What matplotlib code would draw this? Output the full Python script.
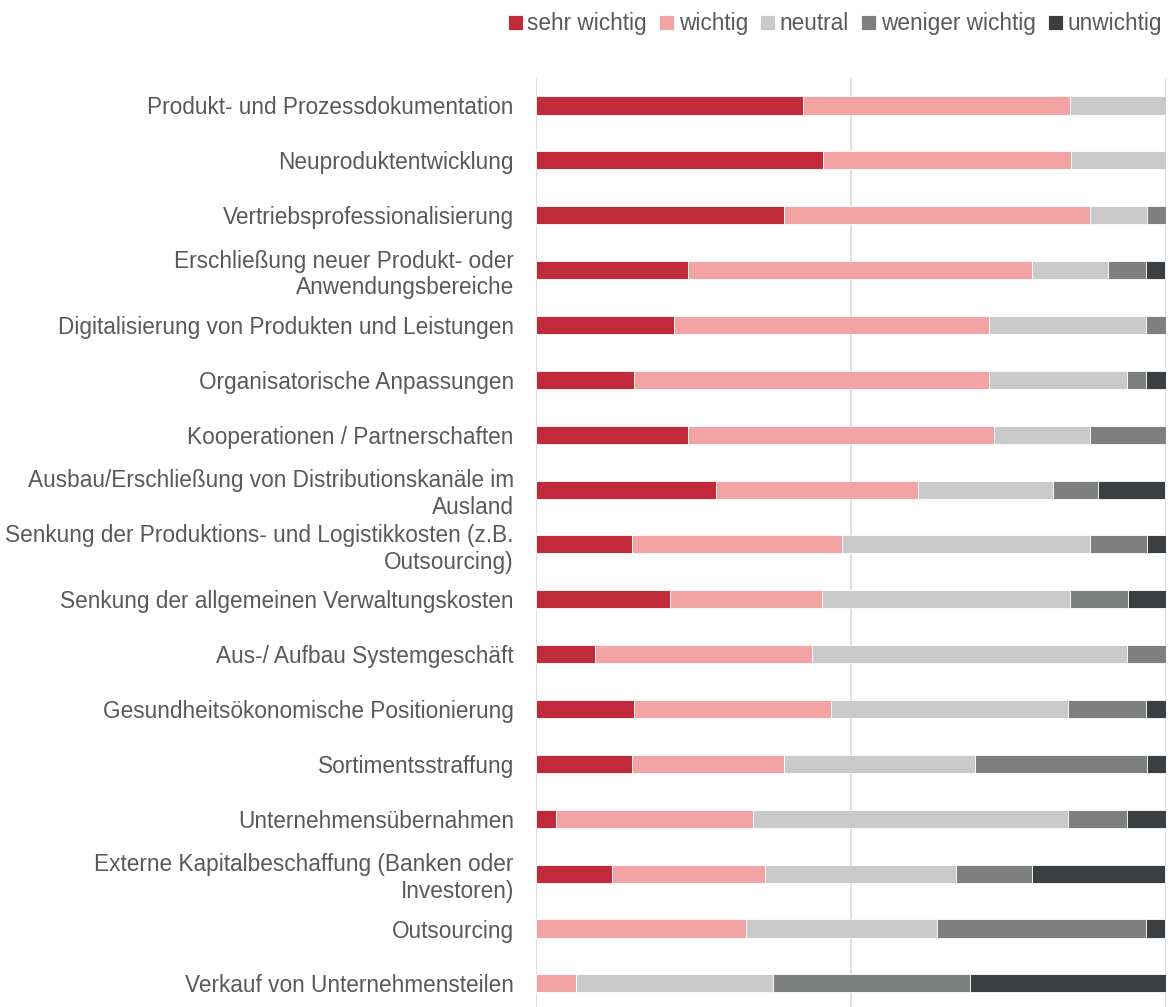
import numpy as np
import matplotlib
matplotlib.use("Agg")
import matplotlib.pyplot as plt

# ── Data (shares in %) ──────────────────────────────────────────────────────
CATEGORIES = [
    "Produkt- und Prozessdokumentation",
    "Neuproduktentwicklung",
    "Vertriebsprofessionalisierung",
    "Erschließung neuer Produkt- oder\nAnwendungsbereiche",
    "Digitalisierung von Produkten und Leistungen",
    "Organisatorische Anpassungen",
    "Kooperationen / Partnerschaften",
    "Ausbau/Erschließung von Distributionskanäle im\nAusland",
    "Senkung der Produktions- und Logistikkosten (z.B.\nOutsourcing)",
    "Senkung der allgemeinen Verwaltungskosten",
    "Aus-/ Aufbau Systemgeschäft",
    "Gesundheitsökonomische Positionierung",
    "Sortimentsstraffung",
    "Unternehmensübernahmen",
    "Externe Kapitalbeschaffung (Banken oder\nInvestoren)",
    "Outsourcing",
    "Verkauf von Unternehmensteilen",
]

SERIES = ["sehr wichtig", "wichtig", "neutral", "weniger wichtig", "unwichtig"]

sehr_wichtig = [42.4, 45.5, 39.4, 24.2, 21.9, 15.6, 24.2, 28.6, 15.2, 21.2,
                9.4, 15.6, 15.2, 3.1, 12.1, 0.0, 0.0]
wichtig = [42.4, 39.4, 48.5, 54.5, 50.0, 56.3, 48.5, 32.1, 33.3, 24.2,
           34.4, 31.3, 24.2, 31.3, 24.2, 33.3, 6.3]
neutral = [15.2, 15.2, 9.1, 12.1, 25.0, 21.9, 15.2, 21.4, 39.4, 39.4,
           50.0, 37.5, 30.3, 50.0, 30.3, 30.3, 31.3]
weniger_wichtig = [0.0, 0.0, 3.0, 6.1, 3.1, 3.1, 12.1, 7.1, 9.1, 9.1,
                   6.3, 12.5, 27.3, 9.4, 12.1, 33.3, 31.3]
unwichtig = [0.0, 0.0, 0.0, 3.0, 0.0, 3.1, 0.0, 10.7, 3.0, 6.1,
             0.0, 3.1, 3.0, 6.3, 21.2, 3.0, 31.3]

COLORS = ["#C12B39", "#F4A3A5", "#C9CAC9", "#7E8080", "#3B3F42"]
TEXT_COLOR = "#595959"

plt.rcParams["font.family"] = ["Liberation Sans", "DejaVu Sans"]

fig = plt.figure(figsize=(11.68, 10.07), dpi=100)
ax = fig.add_axes([536 / 1168, -0.0038, 630 / 1168, 0.9263])

y = np.arange(len(CATEGORIES))
left = np.zeros(len(CATEGORIES))
for name, vals, col in zip(SERIES, [sehr_wichtig, wichtig, neutral, weniger_wichtig, unwichtig], COLORS):
    vals = np.array(vals)
    ax.barh(y, vals, left=left, height=0.33, color=col, edgecolor="white",
            linewidth=0.6, label=name, zorder=3)
    left += vals

ax.set_xlim(0, 100)
ax.set_ylim(len(CATEGORIES) - 0.5, -0.5)
ax.set_xticks([0, 50, 100])
ax.set_xticklabels([])
ax.grid(axis="x", color="#D9D9D9", linewidth=1.2, zorder=0)
for s in ax.spines.values():
    s.set_visible(False)

ax.set_yticks(y)
ax.set_yticklabels(CATEGORIES, fontsize=16.3, color=TEXT_COLOR, linespacing=1.2)
ax.tick_params(axis="y", length=0, pad=16)
ax.tick_params(axis="x", length=0)

fig.legend(loc="upper right", bbox_to_anchor=(1.012, 1.008), ncol=5,
           frameon=False, fontsize=16.3, handlelength=0.65, handleheight=0.65,
           handletextpad=0.2, columnspacing=0.55, labelcolor=TEXT_COLOR)

fig.savefig("out.png", dpi=100)
